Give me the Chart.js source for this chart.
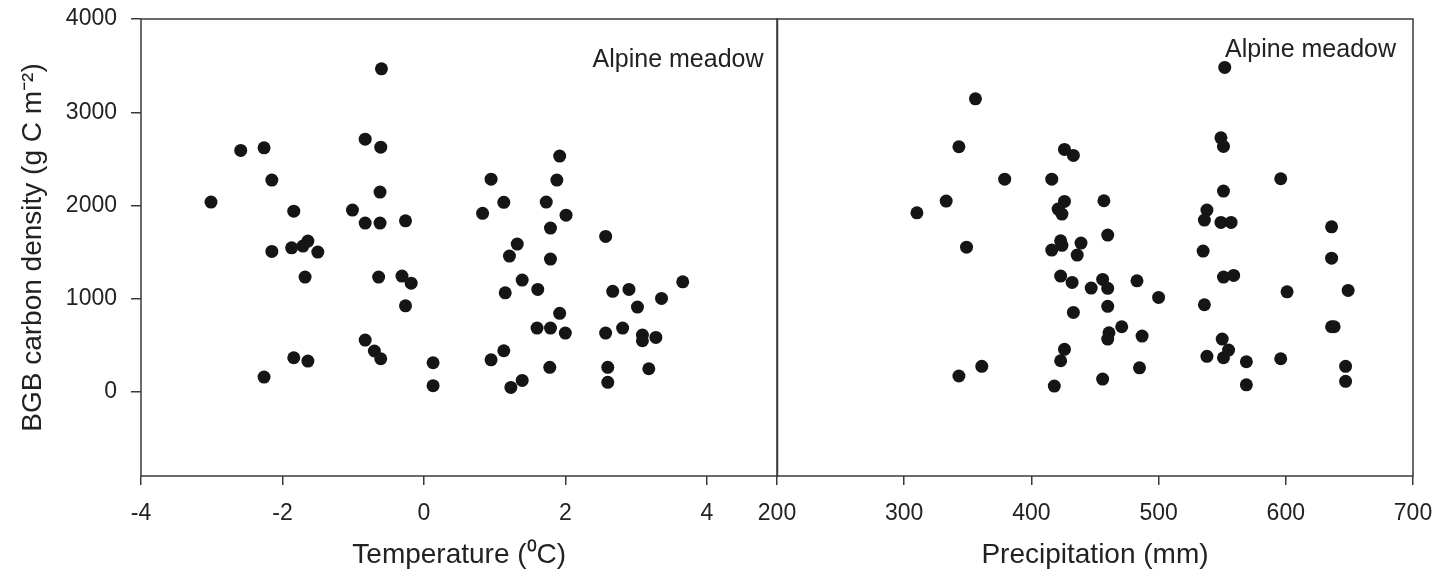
<!DOCTYPE html>
<html>
<head>
<meta charset="utf-8">
<script src="https://cdn.jsdelivr.net/npm/chart.js@4.4.1/dist/chart.umd.min.js"></script>
<style>
body { margin: 0; background: #fff; width: 1451px; height: 579px; overflow: hidden; position: relative; }
.panel { position: absolute; top: 0; height: 579px; }
#left-panel { left: 0; width: 784px; }
#right-panel { left: 747px; width: 704px; }
</style>
</head>
<body>
<div class="panel" id="left-panel"><canvas id="temp-chart"></canvas></div>
<div class="panel" id="right-panel"><canvas id="precip-chart"></canvas></div>
<script>
// ==== data ====
var tempValues = [-3.01, -2.59, -2.26, -2.26, -2.15, -2.15, -1.84, -1.87, -1.84, -1.71, -1.64, -1.68, -1.64, -1.50,
  -1.01, -0.83, -0.83, -0.83, -0.70, -0.60, -0.61, -0.62, -0.62, -0.64, -0.61, -0.31, -0.26, -0.18, -0.26, 0.13, 0.13,
  1.92, 0.95, 1.88, 1.13, 0.83, 1.73, 2.01, 1.79, 2.57, 1.32, 1.21, 1.79, 1.39, 3.66, 1.15, 1.61, 2.67, 2.90, 3.36,
  3.02, 1.92, 1.60, 1.79, 2.00, 2.57, 2.81, 3.09, 3.09, 3.28, 1.13, 0.95, 1.78, 2.60, 3.18, 1.39, 1.23, 2.60];
var tempBGB = [2037, 2591, 2619, 161, 2273, 1508, 1940, 1547, 368, 1565, 1619, 1233, 332, 1501,
  1951, 2712, 1812, 557, 440, 3466, 2626, 2144, 1812, 1233, 357, 1244, 1836, 1168, 925, 314, 68,
  2530, 2283, 2273, 2034, 1916, 2037, 1897, 1758, 1669, 1587, 1458, 1426, 1201, 1182, 1064, 1101, 1080, 1101, 1004,
  911, 844, 686, 686, 632, 632, 686, 611, 550, 586, 443, 346, 265, 265, 250, 125, 50, 104];

var precipValues = [356, 343, 426, 433, 379, 416, 333, 310, 426, 421, 424, 457, 349, 460, 423, 424, 416, 439, 436,
  423, 432, 456, 460, 447, 460, 433, 461, 460, 426, 423, 361, 343, 456, 418,
  552, 549, 551, 596, 551, 538, 536, 549, 557, 636, 535, 636, 483, 551, 559, 601, 649, 500, 536, 471, 487,
  636, 638, 550, 555, 538, 551, 569, 596, 485, 647, 569, 647];
var precipBGB = [3144, 2630, 2602, 2537, 2283, 2283, 2048, 1922, 2044, 1962, 1908, 2051, 1554, 1683, 1622, 1573, 1522, 1597, 1469,
  1244, 1176, 1208, 1112, 1115, 919, 854, 636, 568, 458, 336, 276, 172, 139, 64,
  3481, 2726, 2634, 2287, 2155, 1951, 1844, 1819, 1819, 1772, 1512, 1436, 1193, 1233, 1251, 1075, 1090, 1015, 936, 700, 600,
  700, 700, 568, 450, 383, 368, 325, 357, 260, 276, 78, 115];

var tempTicks = [-4, -2, 0, 2, 4];
var precipTicks = [200, 300, 400, 500, 600, 700];
var bgbTicks = [0, 1000, 2000, 3000, 4000];

var siteName = 'Alpine meadow';

// ==== shared bits ====
var FONT = '"Liberation Sans", Arial, sans-serif';
var INK = '#222';

function toPoints(xs, ys) {
  return xs.map(function (x, i) { return { x: x, y: ys[i] }; });
}

function fixedTicks(list) {
  return function (scale) {
    scale.ticks = list.map(function (v) { return { value: v }; });
  };
}

// keep the plot area where layout.padding puts it
function noOverflow(s) {
  s.paddingTop = 0; s.paddingBottom = 0; s.paddingLeft = 0; s.paddingRight = 0;
}

function plainNumber(v) { return String(v); }

// box around plot area + site label
var frame = {
  id: 'frame',
  afterDraw: function (chart, args, opts) {
    var a = chart.chartArea, ctx = chart.ctx;
    ctx.save();
    ctx.strokeStyle = '#3a3a3a';
    ctx.lineWidth = 1.5;
    ctx.strokeRect(a.left, a.top, a.right - a.left, a.bottom - a.top);
    ctx.font = '25px ' + FONT;
    ctx.fillStyle = INK;
    ctx.textAlign = 'right';
    ctx.textBaseline = 'alphabetic';
    ctx.fillText(siteName, a.right - opts.dx, opts.y);
    ctx.restore();
  }
};

function xAxis(min, max, ticks, title) {
  return {
    type: 'linear', min: min, max: max,
    afterBuildTicks: fixedTicks(ticks),
    afterFit: function (s) { s.height = 103; noOverflow(s); },
    grid: { drawOnChartArea: false, drawTicks: true, tickLength: 9, color: '#3a3a3a', lineWidth: 1.5 },
    border: { display: false },
    ticks: { color: INK, padding: 15, font: { family: FONT, size: 23 }, maxRotation: 0, callback: plainNumber },
    title: { display: true, text: title, color: INK, font: { family: FONT, size: 28 }, padding: { top: 0, bottom: 7 } }
  };
}

function scatterSet(xs, ys) {
  return {
    data: toPoints(xs, ys),
    pointRadius: 6.5,
    pointBackgroundColor: '#151515',
    pointBorderWidth: 0,
    showLine: false
  };
}

// ====Temperature scatter====
var wTempChart = document.getElementById('temp-chart').getContext('2d');
var tempChart = new Chart(wTempChart, {
  type: 'scatter',
  data: { datasets: [scatterSet(tempValues, tempBGB)] },
  options: {
    responsive: true, maintainAspectRatio: false, animation: false,
    layout: { padding: { top: 19, right: 1, bottom: 0, left: 0 } },
    plugins: { legend: { display: false }, tooltip: { enabled: false }, frame: { dx: 14, y: 67 } },
    scales: {
      x: xAxis(-4, 5, tempTicks, 'Temperature (\u2070C)'),
      y: {
        type: 'linear', min: -900, max: 4000,
        afterBuildTicks: fixedTicks(bgbTicks),
        afterFit: function (s) { s.width = 141; noOverflow(s); },
        grid: { drawOnChartArea: false, drawTicks: true, tickLength: 10, color: '#3a3a3a', lineWidth: 1.5 },
        border: { display: false },
        ticks: { color: INK, padding: 14, font: { family: FONT, size: 23 }, callback: plainNumber },
        title: { display: true, text: 'BGB carbon density (g C m\u207B\u00B2)', color: INK,
          font: { family: FONT, size: 28 }, padding: { top: 16, bottom: 0 } }
      }
    }
  },
  plugins: [frame]
});

// ====Precipitation scatter====
var wPrecipChart = document.getElementById('precip-chart').getContext('2d');
var precipChart = new Chart(wPrecipChart, {
  type: 'scatter',
  data: { datasets: [scatterSet(precipValues, precipBGB)] },
  options: {
    responsive: true, maintainAspectRatio: false, animation: false,
    layout: { padding: { top: 19, right: 38, bottom: 0, left: 30 } },
    plugins: { legend: { display: false }, tooltip: { enabled: false }, frame: { dx: 17, y: 57 } },
    scales: {
      x: xAxis(200, 700, precipTicks, 'Precipitation (mm)'),
      y: { type: 'linear', min: -900, max: 4000, display: false }
    }
  },
  plugins: [frame]
});
</script>
</body>
</html>
